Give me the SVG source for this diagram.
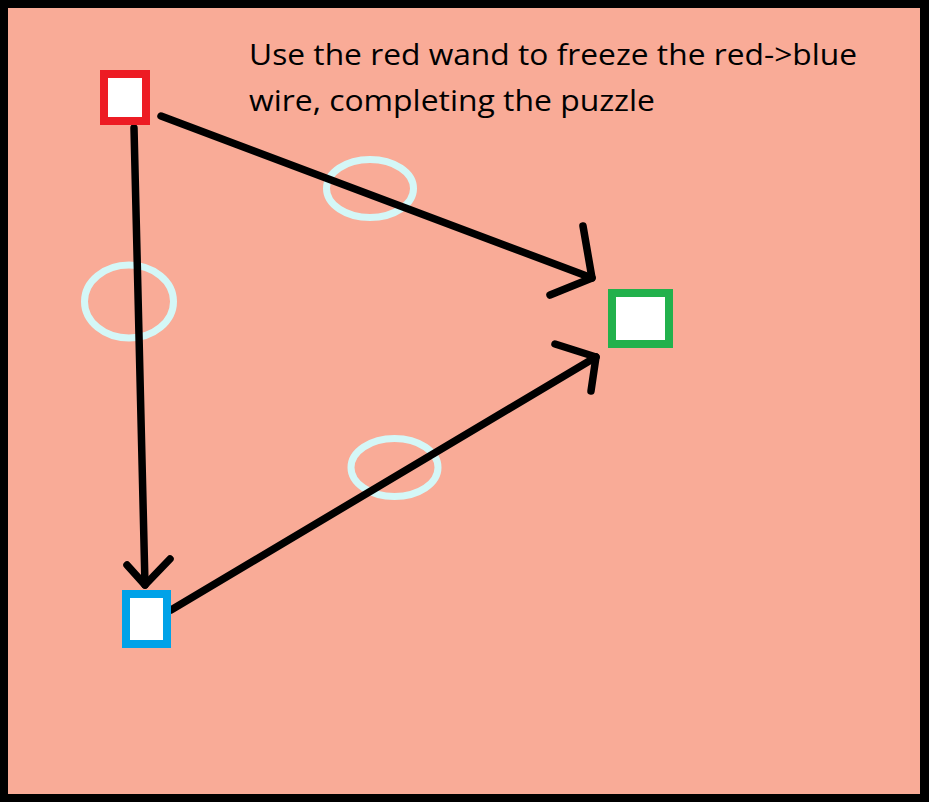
<svg xmlns="http://www.w3.org/2000/svg" width="929" height="802" viewBox="0 0 929 802">
<style>
.wire{fill:none;stroke:#000;stroke-width:7.5;stroke-linecap:round;stroke-linejoin:round}
.ring{fill:none;stroke:#d4f7f7;stroke-width:7}
.node{fill:#fff;stroke-width:8}
.label{font-family:"Open Sans","Liberation Sans",sans-serif;font-size:30px;fill:#000}
</style>
<rect x="0" y="0" width="929" height="802" fill="#000"/>
<rect x="8" y="8" width="912" height="786" fill="#f9ab97"/>
<g id="rings">
<ellipse class="ring" cx="370" cy="188.5" rx="43.5" ry="29"/>
<ellipse class="ring" cx="129" cy="301.5" rx="44.5" ry="36.5"/>
<ellipse class="ring" cx="394.5" cy="467.5" rx="43.5" ry="29"/>
</g>
<g id="connectors">
<path class="wire" d="M161,116 L592,278"/>
<path class="wire" d="M583,226 L592,278 L550,295"/>
<path class="wire" d="M134,128 L145,585"/>
<path class="wire" d="M127,565 L145,585 L170,559"/>
<path class="wire" d="M171,610 L596,357"/>
<path class="wire" d="M555,344 L596,357 L591,391"/>
</g>
<g id="node-red">
<rect class="node" x="104" y="74" width="42" height="47" stroke="#ed1c24"/>
</g>
<g id="node-green">
<rect class="node" x="612" y="293" width="57" height="51" stroke="#22b14c"/>
</g>
<g id="node-blue">
<rect class="node" x="126" y="594" width="41" height="50" stroke="#00a2e8"/>
</g>
<g id="caption">
<text class="label" x="249" y="65" textLength="608" lengthAdjust="spacingAndGlyphs">Use the red wand to freeze the red-&gt;blue</text>
<text class="label" x="249" y="111" textLength="406" lengthAdjust="spacingAndGlyphs">wire, completing the puzzle</text>
</g>
</svg>
